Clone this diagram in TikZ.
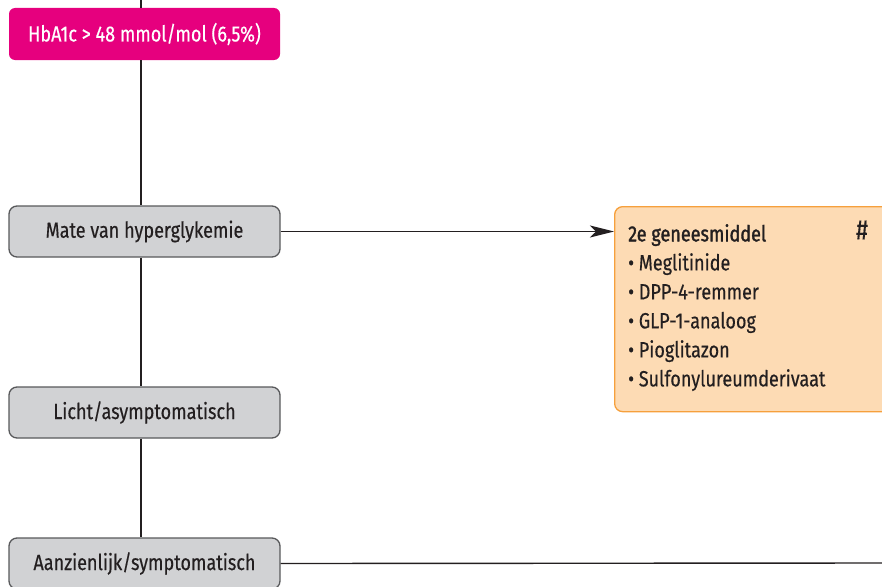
\documentclass[tikz,border=0pt]{standalone}
\usepackage{fontspec}
\setmainfont{Fira Sans}[FakeStretch=0.82,FakeBold=0.4]
\newfontfamily\headfont{Fira Sans}[FakeStretch=0.82,FakeBold=1.4]
\usetikzlibrary{arrows.meta}
\definecolor{pinkc}{HTML}{E6007E}
\definecolor{grayfill}{HTML}{D1D2D4}
\definecolor{grayline}{HTML}{58595B}
\definecolor{orfill}{HTML}{FDDBB4}
\definecolor{orline}{HTML}{F6A03C}
\definecolor{txt}{HTML}{231F20}
\begin{document}
\begin{tikzpicture}[x=1pt,y=-1pt,
  stepbox/.style={draw=grayline,line width=1.3pt,fill=grayfill,rounded corners=8pt,
    minimum width=271pt,minimum height=51pt,inner sep=0pt,text=txt,
    font=\fontsize{22}{24}\selectfont},
  pinkbox/.style={fill=pinkc,rounded corners=6pt,minimum width=271pt,minimum height=52pt,
    inner sep=0pt,text=white,font=\fontsize{22}{24}\selectfont},
  conn/.style={line width=1.4pt,draw=txt}]
\useasboundingbox (0,0) rectangle (882,586);
\clip (0,0) rectangle (882,586);
\coordinate (top) at (141,-2);
\node[pinkbox] (hba) at (144.5,34) {HbA1c > 48 mmol/mol (6,5\%)};
\node[stepbox] (mate) at (144.5,231.5) {Mate van hyperglykemie};
\node[stepbox] (licht) at (144.5,412.5) {Licht/asymptomatisch};
\node[stepbox] (aanz) at (144.5,563.5) {Aanzienlijk/symptomatisch};
\node[draw=orline,line width=1.3pt,fill=orfill,rounded corners=8pt,anchor=north west,
  minimum width=290pt,minimum height=205pt] (orange) at (614,206) {};
\node[anchor=north west,align=left,inner sep=0pt,text=txt,
  font=\fontsize{22}{29}\selectfont] (list) at (628,224)
  {{\headfont 2e geneesmiddel}\\
   \textbullet{} Meglitinide\\
   \textbullet{} DPP-4-remmer\\
   \textbullet{} GLP-1-analoog\\
   \textbullet{} Pioglitazon\\
   \textbullet{} Sulfonylureumderivaat};
\node[text=txt,font=\fontsize{28}{30}\selectfont,inner sep=0pt] (hash) at (862,230) {\#};
\coordinate (rightend) at (884,563);
\draw[conn] (top) -- (hba.north -| top);
\draw[conn] (hba.south -| top) -- (mate.north -| top);
\draw[conn] (mate.south -| top) -- (licht.north -| top);
\draw[conn] (licht.south -| top) -- (aanz.north -| top);
\draw[conn,-{Stealth[length=24pt,width=12pt,inset=6pt]}] (mate.east) -- (orange.west |- mate.east);
\draw[conn] (aanz.east) -- (rightend);
\end{tikzpicture}
\end{document}
